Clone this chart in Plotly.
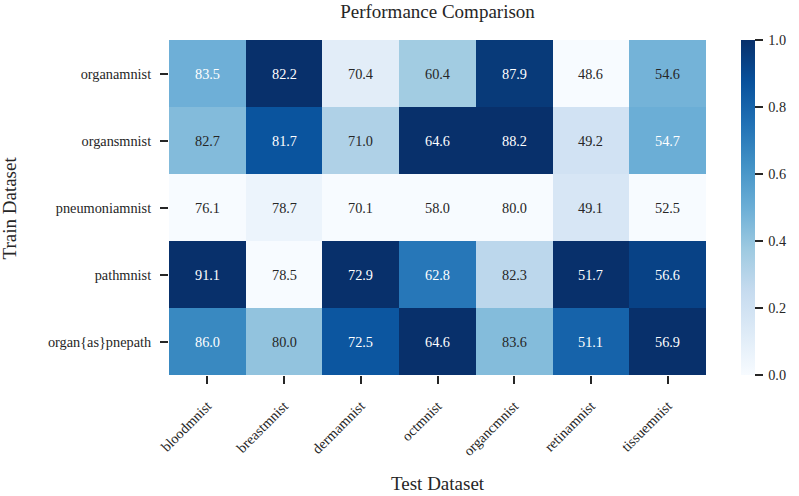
import plotly.graph_objects as go
import numpy as np

train = ["organamnist", "organsmnist", "pneumoniamnist", "pathmnist", "organ{as}pnepath"]
test = ["bloodmnist", "breastmnist", "dermamnist", "octmnist", "organcmnist", "retinamnist", "tissuemnist"]
organamnist = [83.5, 82.2, 70.4, 60.4, 87.9, 48.6, 54.6]
organsmnist = [82.7, 81.7, 71.0, 64.6, 88.2, 49.2, 54.7]
pneumoniamnist = [76.1, 78.7, 70.1, 58.0, 80.0, 49.1, 52.5]
pathmnist = [91.1, 78.5, 72.9, 62.8, 82.3, 51.7, 56.6]
organ_as_pnepath = [86.0, 80.0, 72.5, 64.6, 83.6, 51.1, 56.9]
cbar_ticks = [0, 0.2, 0.4, 0.6, 0.8, 1.0]

vals = np.array([organamnist, organsmnist, pneumoniamnist, pathmnist, organ_as_pnepath])
mn = vals.min(axis=0)
mx = vals.max(axis=0)
norm = (vals - mn) / (mx - mn)

blues = ["#f7fbff", "#deebf7", "#c6dbef", "#9ecae1", "#6baed6",
         "#4292c6", "#2171b5", "#08519c", "#08306b"]
cs = [[i / 8, c] for i, c in enumerate(blues)]

FONT = "Liberation Serif"
TXT = "#262626"
fig = go.Figure(go.Heatmap(
    z=norm, x=test, y=train, colorscale=cs, zmin=0, zmax=1,
    showscale=True,
    colorbar=dict(thickness=14, len=1, lenmode="fraction", x=1.065, xanchor="left",
                  y=0.5, yanchor="middle", outlinewidth=0, xpad=0, ypad=0,
                  tickvals=cbar_ticks, ticktext=["\u2009" + f"{t:.1f}" for t in cbar_ticks],
                  ticks="outside", ticklen=8, tickwidth=1.8, tickcolor=TXT,
                  tickfont=dict(family=FONT, size=14.3, color=TXT)),
    hoverinfo="skip",
))

for i, tr in enumerate(train):
    for j, te in enumerate(test):
        fig.add_annotation(x=te, y=tr, text=f"{vals[i, j]:.1f}", showarrow=False,
                           font=dict(family=FONT, size=14.3,
                                     color="white" if norm[i, j] > 0.485 else TXT))

fig.add_annotation(xref="paper", yref="paper", x=0.5, y=-0.3224, xanchor="center", yanchor="middle",
                   text="Test Dataset", showarrow=False, font=dict(family=FONT, size=19, color=TXT))
fig.add_annotation(xref="paper", yref="paper", x=-0.2961, y=0.5, xanchor="center", yanchor="middle",
                   text="Train Dataset", textangle=-90, showarrow=False,
                   font=dict(family=FONT, size=19, color=TXT))

fig.update_layout(
    width=799, height=496,
    margin=dict(l=169, r=93, t=40, b=121, autoexpand=False),
    paper_bgcolor="white", plot_bgcolor="white",
    title=dict(text="Performance Comparison", xref="paper", x=0.5, xanchor="center",
               yref="container", y=1 - 11 / 496, yanchor="middle",
               font=dict(family=FONT, size=19, color=TXT)),
    font=dict(family=FONT, size=14.3, color=TXT),
)
fig.update_xaxes(tickangle=-45, ticks="outside", ticklen=8, tickwidth=1.8, tickcolor=TXT,
                 ticklabelstandoff=8,
                 showgrid=False, zeroline=False, showline=False, automargin=False,
                 tickfont=dict(family=FONT, size=14.3, color=TXT))
fig.update_yaxes(autorange="reversed", ticks="outside", ticklen=8, tickwidth=1.8, tickcolor=TXT,
                 ticklabelstandoff=6,
                 showgrid=False, zeroline=False, showline=False, automargin=False,
                 tickfont=dict(family=FONT, size=14.3, color=TXT))

fig.write_html("out.html", config={"displayModeBar": False},
               post_script="document.body.style.margin='0';")
